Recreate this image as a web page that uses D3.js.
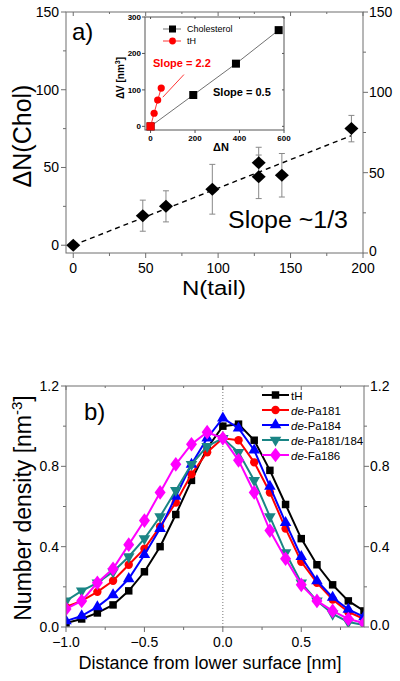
<!DOCTYPE html>
<html><head><meta charset="utf-8">
<script src="https://cdn.jsdelivr.net/npm/d3@7"></script>
<style>body{margin:0;background:#fff}svg{display:block;font-family:"Liberation Sans",Arial,sans-serif}</style>
</head><body><svg id="c" width="400" height="681"></svg>
<script>
// ---------- Panel a data ----------
const nTail = [0, 48, 64, 96, 128, 128, 144, 192];
const dNChol = [0, 19, 25, 36, 44, 53, 45, 75];
const dNCholErr = [0, 10, 10, 16, 14, 10, 14, 8.5];
const fitX = [0, 192];
const fitY = [0, 70.5];
const aXTicks = [0, 50, 100, 150, 200];
const aXMinor = [25, 75, 125, 175];
const aYTicks = [0, 50, 100, 150];
const aYMinor = [25, 75, 125];
// inset
const cholDN = [0, 192, 384, 576];
const cholDV = [0, 86, 172, 264];
const tHDN = [0, 16, 32, 48];
const tHDV = [0, 36, 72, 105];
const slopeArrowX = [55, 150];
const slopeArrowY = [80, 142];
const insetXTicks = [0, 200, 400, 600];
const insetYTicks = [0, 100, 200, 300];
// ---------- Panel b data ----------
const distance = [-1.0,-0.9,-0.8,-0.7,-0.6,-0.5,-0.4,-0.3,-0.2,-0.1,0.0,0.1,0.2,0.3,0.4,0.5,0.6,0.7,0.8,0.9];
const seriesNames = ["tH", "de-Pa181", "de-Pa184", "de-Pa181/184", "de-Fa186"];
const tH      = [0.02,0.04,0.07,0.11,0.18,0.275,0.40,0.56,0.73,0.89,1.00,1.01,0.93,0.78,0.61,0.44,0.31,0.21,0.13,0.08];
const pa181   = [0.10,0.13,0.175,0.23,0.31,0.39,0.50,0.62,0.76,0.87,0.94,0.93,0.82,0.67,0.49,0.325,0.22,0.137,0.075,0.04];
const pa184   = [0.03,0.055,0.10,0.16,0.24,0.36,0.49,0.65,0.81,0.94,1.04,0.99,0.88,0.70,0.52,0.35,0.23,0.147,0.088,0.05];
const pa181184= [0.13,0.18,0.22,0.275,0.35,0.44,0.55,0.68,0.81,0.90,0.94,0.87,0.73,0.55,0.37,0.22,0.13,0.065,0.025,0.01];
const fa186   = [0.09,0.13,0.22,0.29,0.41,0.53,0.67,0.81,0.91,0.97,0.94,0.83,0.67,0.48,0.34,0.21,0.13,0.08,0.04,0.02];
const bXTicks = [-1.0, -0.5, 0.0, 0.5];
const bXMinor = [-0.75, -0.25, 0.25, 0.75];
const bYTicks = [0.0, 0.4, 0.8, 1.2];
const bYMinor = [0.2, 0.6, 1.0];

const svg = d3.select("#c");
const axisCol = "#6e6e6e";

function frameAxes(g, x, y, yR, opts) {
  const [x0, x1] = x.range(), [y0, y1] = y.range();
  g.append("rect").attr("x", x0).attr("y", y1).attr("width", x1 - x0).attr("height", y0 - y1)
    .attr("fill", "none").attr("stroke", axisCol).attr("stroke-width", 1);
  const tk = (xa, ya, xb, yb) => g.append("line").attr("x1", xa).attr("y1", ya).attr("x2", xb).attr("y2", yb)
    .attr("stroke", axisCol).attr("stroke-width", 1);
  opts.xT.forEach(v => { tk(x(v), y0, x(v), y0 + 5); tk(x(v), y1, x(v), y1 + 4); });
  opts.xM.forEach(v => { tk(x(v), y0, x(v), y0 + 3); tk(x(v), y1, x(v), y1 + 2); });
  opts.yT.forEach(v => { tk(x0, y(v), x0 - 5, y(v)); });
  opts.yM.forEach(v => { tk(x0, y(v), x0 - 3, y(v)); });
  opts.yT.forEach(v => { tk(x1, yR(v), x1 + 5, yR(v)); });
  opts.yM.forEach(v => { tk(x1, yR(v), x1 + 3, yR(v)); });
  opts.xT.forEach(v => g.append("text").attr("x", x(v)).attr("y", opts.xLabY).attr("text-anchor", "middle")
    .attr("font-size", 14).text(opts.fmtX(v)));
  opts.yT.forEach(v => g.append("text").attr("x", x0 - 7).attr("y", y(v)).attr("dy", "0.35em").attr("text-anchor", "end")
    .attr("font-size", 14).text(opts.fmtY(v)));
  opts.yT.forEach((v, i) => g.append("text").attr("x", x1 + 6).attr("y", yR(v)).attr("dy", i === 0 ? "0.2em" : "0.35em").attr("text-anchor", "start")
    .attr("font-size", 14).text(opts.fmtY(v)));
}

// ================= Panel a =================
const ga = svg.append("g");
const xa = d3.scaleLinear().domain([-5, 200]).range([66, 363]);
const ya = d3.scaleLinear().domain([-5, 150]).range([253, 12]);
const yaR = d3.scaleLinear().domain([0, 150]).range([253, 12]);
frameAxes(ga, xa, ya, yaR, {xT: aXTicks, xM: aXMinor, yT: aYTicks, yM: aYMinor, xLabY: 273,
  fmtX: d3.format("d"), fmtY: d3.format("d")});

// fit line
ga.append("line").attr("x1", xa(fitX[0])).attr("y1", ya(fitY[0])).attr("x2", xa(fitX[1])).attr("y2", ya(fitY[1]))
  .attr("stroke", "#000").attr("stroke-width", 1.4).attr("stroke-dasharray", "5,4");
// error bars
nTail.forEach((n, i) => {
  if (!dNCholErr[i]) return;
  const cx = xa(n), t = ya(dNChol[i] + dNCholErr[i]), b = ya(dNChol[i] - dNCholErr[i]);
  ga.append("line").attr("x1", cx).attr("x2", cx).attr("y1", t).attr("y2", b).attr("stroke", "#888").attr("stroke-width", 1);
  [t, b].forEach(yy => ga.append("line").attr("x1", cx - 3).attr("x2", cx + 3).attr("y1", yy).attr("y2", yy)
    .attr("stroke", "#888").attr("stroke-width", 1));
});
// diamonds
ga.selectAll("path.dia").data(nTail.map((n, i) => [n, dNChol[i]])).enter().append("path")
  .attr("d", d => { const cx = xa(d[0]), cy = ya(d[1]); return `M${cx},${cy-6.5}L${cx+7},${cy}L${cx},${cy+6.5}L${cx-7},${cy}Z`; })
  .attr("fill", "#000");

ga.append("text").attr("x", 72).attr("y", 40).attr("font-size", 24).text("a)");
ga.append("text").attr("x", 228).attr("y", 228).attr("font-size", 23).attr("textLength", 120)
  .attr("lengthAdjust", "spacingAndGlyphs").text("Slope ~1/3");
ga.append("text").attr("x", 214).attr("y", 295).attr("text-anchor", "middle").attr("font-size", 20)
  .attr("textLength", 64).attr("lengthAdjust", "spacingAndGlyphs").text("N(tail)");
ga.append("text").attr("transform", "translate(31,136) rotate(-90)").attr("text-anchor", "middle")
  .attr("font-size", 25).text("ΔN(Chol)");

// ---------- inset ----------
const gi = svg.append("g");
const xi = d3.scaleLinear().domain([-25, 600]).range([145, 284]);
const yi = d3.scaleLinear().domain([-10, 300]).range([130, 17]);
gi.append("rect").attr("x", 145).attr("y", 17).attr("width", 139).attr("height", 113)
  .attr("fill", "#fff").attr("stroke", "#555").attr("stroke-width", 1);
const itk = (a, b, c, d) => gi.append("line").attr("x1", a).attr("y1", b).attr("x2", c).attr("y2", d).attr("stroke", "#555");
insetXTicks.forEach(v => { itk(xi(v), 130, xi(v), 133); itk(xi(v), 17, xi(v), 19); });
insetYTicks.forEach(v => { itk(145, yi(v), 142, yi(v)); itk(284, yi(v), 282, yi(v)); });
insetXTicks.forEach(v => gi.append("text").attr("x", xi(v)).attr("y", 141).attr("text-anchor", "middle")
  .attr("font-size", 8).attr("font-weight", "bold").text(v));
insetYTicks.forEach(v => gi.append("text").attr("x", 141).attr("y", yi(v)).attr("dy", "0.35em").attr("text-anchor", "end")
  .attr("font-size", 8).attr("font-weight", "bold").text(v));
gi.append("text").attr("x", 221).attr("y", 151).attr("text-anchor", "middle").attr("font-size", 11)
  .attr("font-weight", "bold").text("ΔN");
const dvl = gi.append("text").attr("transform", "translate(124,78) rotate(-90)").attr("text-anchor", "middle")
  .attr("font-size", 10).attr("font-weight", "bold");
dvl.append("tspan").text("ΔV [nm");
dvl.append("tspan").attr("font-size", 7).attr("dy", -4).text("3");
dvl.append("tspan").attr("dy", 4).text("]");

const lineI = d3.line().x(d => xi(d[0])).y(d => yi(d[1]));
const cholPts = cholDN.map((n, i) => [n, cholDV[i]]);
const tHPts = tHDN.map((n, i) => [n, tHDV[i]]);
gi.append("path").attr("d", lineI(cholPts)).attr("fill", "none").attr("stroke", "#333").attr("stroke-width", 0.7);
gi.selectAll("rect.cs").data(cholPts).enter().append("rect")
  .attr("x", d => xi(d[0]) - 4).attr("y", d => yi(d[1]) - 4).attr("width", 8).attr("height", 8).attr("fill", "#000");
gi.append("path").attr("d", lineI(tHPts)).attr("fill", "none").attr("stroke", "#f00").attr("stroke-width", 0.8);
gi.selectAll("circle.th").data(tHPts).enter().append("circle")
  .attr("cx", d => xi(d[0])).attr("cy", d => yi(d[1])).attr("r", d => d[0] === 0 ? 0 : 3.6).attr("fill", "#f00");
gi.append("rect").attr("x", xi(0) - 4).attr("y", yi(0) - 4).attr("width", 8).attr("height", 8).attr("fill", "#f00");
gi.append("line").attr("x1", xi(slopeArrowX[0])).attr("y1", yi(slopeArrowY[0])).attr("x2", xi(slopeArrowX[1]))
  .attr("y2", yi(slopeArrowY[1])).attr("stroke", "#f00").attr("stroke-width", 0.8);
// inset legend
gi.append("line").attr("x1", 163).attr("x2", 181).attr("y1", 29).attr("y2", 29).attr("stroke", "#333").attr("stroke-width", 0.7);
gi.append("rect").attr("x", 169).attr("y", 25.5).attr("width", 7).attr("height", 7).attr("fill", "#000");
gi.append("text").attr("x", 187).attr("y", 32).attr("font-size", 9).text("Cholesterol");
gi.append("line").attr("x1", 163).attr("x2", 181).attr("y1", 41).attr("y2", 41).attr("stroke", "#f00").attr("stroke-width", 0.8);
gi.append("circle").attr("cx", 172.5).attr("cy", 41).attr("r", 3.4).attr("fill", "#f00");
gi.append("text").attr("x", 187).attr("y", 44).attr("font-size", 9).text("tH");
gi.append("text").attr("x", 153).attr("y", 67).attr("font-size", 11).attr("font-weight", "bold").attr("fill", "#f00").text("Slope = 2.2");
gi.append("text").attr("x", 213).attr("y", 96).attr("font-size", 11).attr("font-weight", "bold").text("Slope = 0.5");

// ================= Panel b =================
const gb = svg.append("g");
const xb = d3.scaleLinear().domain([-1.0, 0.9]).range([66, 364]);
const yb = d3.scaleLinear().domain([0, 1.2]).range([627, 386]);
gb.append("defs").append("clipPath").attr("id", "clipb").append("rect")
  .attr("x", 66).attr("y", 386).attr("width", 298).attr("height", 241);
gb.append("line").attr("x1", xb(0)).attr("x2", xb(0)).attr("y1", yb(0)).attr("y2", yb(1.2))
  .attr("stroke", "#777").attr("stroke-width", 1).attr("stroke-dasharray", "1,2");

const series = [
  {name: seriesNames[0], vals: tH, color: "#000000", sym: d3.symbolSquare, size: 56},
  {name: seriesNames[1], vals: pa181, color: "#ff0000", sym: d3.symbolCircle, size: 55},
  {name: seriesNames[2], vals: pa184, color: "#0000ff", sym: d3.symbolTriangle, size: 58},
  {name: seriesNames[3], vals: pa181184, color: "#1a8585", sym: d3.symbolTriangle, size: 58, rot: 180},
  {name: seriesNames[4], vals: fa186, color: "#ff00ff", sym: d3.symbolDiamond, size: 62}
];
const pb = gb.append("g").attr("clip-path", "url(#clipb)");
const lineB = d3.line().x(d => xb(d[0])).y(d => yb(d[1]));
series.forEach(s => {
  const pts = distance.map((x, i) => [x, s.vals[i]]);
  pb.append("path").attr("d", lineB(pts)).attr("fill", "none").attr("stroke", s.color).attr("stroke-width", 2);
  pb.selectAll(null).data(pts).enter().append("path")
    .attr("d", d3.symbol().type(s.sym).size(s.size))
    .attr("transform", d => `translate(${xb(d[0])},${yb(d[1])})` + (s.rot ? ` rotate(${s.rot})` : "") + (s.sym === d3.symbolDiamond ? " scale(1.3,1)" : ""))
    .attr("fill", s.color);
});
frameAxes(gb, xb, yb, yb, {xT: bXTicks, xM: bXMinor, yT: bYTicks, yM: bYMinor, xLabY: 647,
  fmtX: d3.format(".1f"), fmtY: d3.format(".1f")});

gb.append("text").attr("x", 84).attr("y", 420).attr("font-size", 24).text("b)");
gb.append("text").attr("x", 210).attr("y", 669).attr("text-anchor", "middle").attr("font-size", 18)
  .text("Distance from lower surface [nm]");
const yl = gb.append("text").attr("transform", "translate(31,508) rotate(-90)").attr("text-anchor", "middle").attr("font-size", 23);
yl.append("tspan").text("Number density [nm");
yl.append("tspan").attr("font-size", 15).attr("dy", -9).text("-3");
yl.append("tspan").attr("dy", 9).text("]");

// legend
series.forEach((s, i) => {
  const yy = 395 + i * 15;
  gb.append("line").attr("x1", 262).attr("x2", 289).attr("y1", yy).attr("y2", yy).attr("stroke", s.color).attr("stroke-width", 2);
  gb.append("path").attr("d", d3.symbol().type(s.sym).size(s.size))
    .attr("transform", `translate(275.5,${yy})` + (s.rot ? ` rotate(${s.rot})` : "") + (s.sym === d3.symbolDiamond ? " scale(1.3,1)" : ""))
    .attr("fill", s.color);
  const t = gb.append("text").attr("x", 291).attr("y", yy + 4.5).attr("font-size", 11.5);
  if (s.name.startsWith("de-")) {
    t.append("tspan").attr("font-style", "italic").text("de");
    t.append("tspan").text(s.name.slice(2));
  } else t.text(s.name);
});
</script></body></html>
